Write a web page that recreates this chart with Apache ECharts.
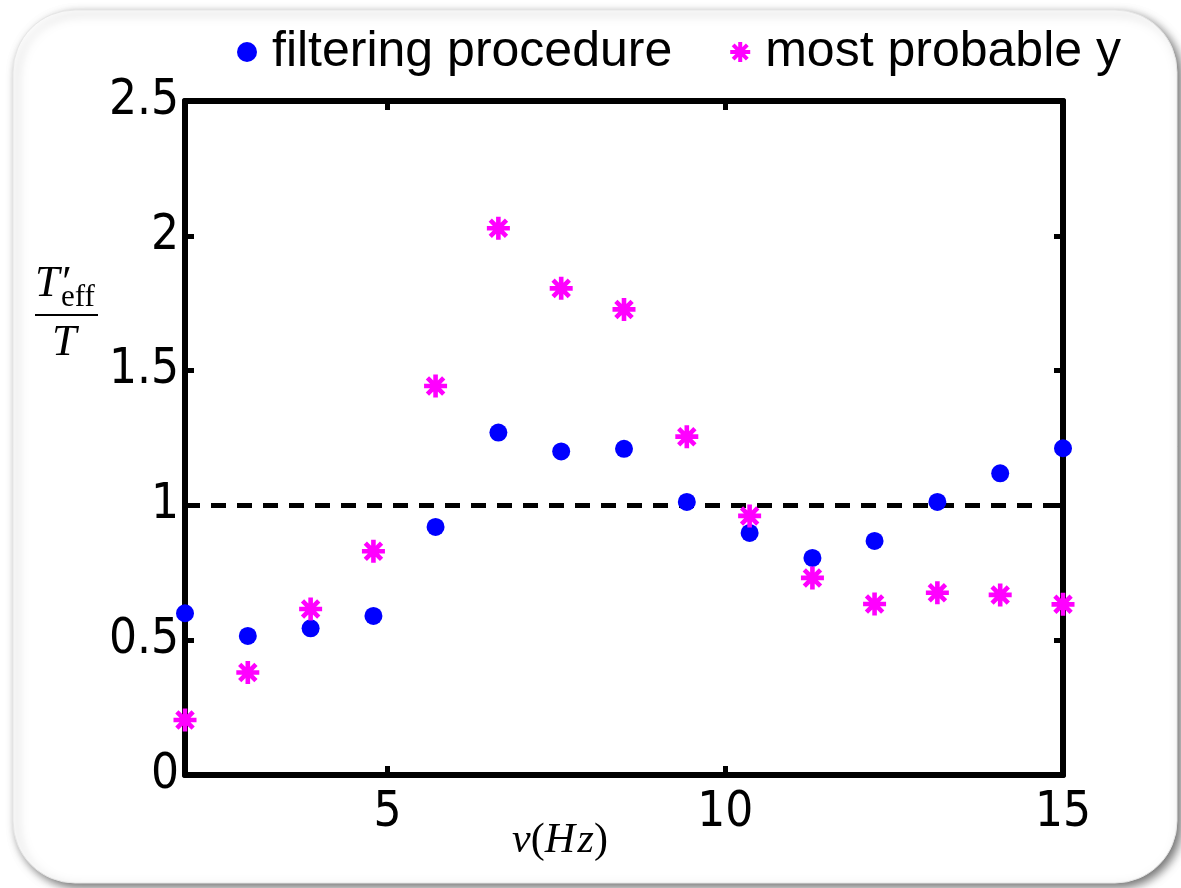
<!DOCTYPE html>
<html>
<head>
<meta charset="utf-8">
<script src="https://cdn.jsdelivr.net/npm/echarts@6/dist/echarts.min.js"></script>
<style>
html,body{margin:0;padding:0;background:#ffffff;}
#chart{width:1181px;height:888px;}
</style>
</head>
<body>
<div id="chart"></div>
<script>
// ---- data ----
const freqs = [2, 2.93, 3.86, 4.79, 5.71, 6.64, 7.57, 8.5, 9.43, 10.36, 11.29, 12.21, 13.14, 14.07, 15];
const filteringValues = [0.60, 0.516, 0.544, 0.59, 0.92, 1.27, 1.20, 1.21, 1.013, 0.898, 0.805, 0.868, 1.013, 1.119, 1.212];
const mostProbableValues = [0.204, 0.38, 0.616, 0.83, 1.443, 2.028, 1.805, 1.727, 1.255, 0.961, 0.731, 0.634, 0.676, 0.668, 0.633];
const refLineX = [2, 15];
const refLineY = [1, 1];
const xTickValues = [5, 10, 15];
const xTopTickValues = [5, 10];
const yTickValues = [0, 0.5, 1, 1.5, 2, 2.5];
const yInnerTickValues = [0.5, 1, 1.5, 2];
const seriesNames = ['filtering procedure', 'most probable y'];

// asterisk: horizontal, vertical and two diagonal bars (bar width 20 of 100)
const asteriskPath = 'path://M0 40L100 40L100 60L0 60Z M40 0L60 0L60 100L40 100Z ' +
  'M21.72 7.57L92.43 78.28L78.28 92.43L7.57 21.72Z ' +
  'M7.57 78.28L78.28 7.57L92.43 21.72L21.72 92.43Z';

const pair = (xs, ys) => xs.map((x, i) => [x, ys[i]]);

const tickFont = "'DejaVu Sans Condensed', 'DejaVu Sans', sans-serif";
const serif = "'Liberation Serif', 'DejaVu Serif', serif";

const chart = echarts.init(document.getElementById('chart'), null, {renderer: 'canvas'});

const axisLineStyle = {color: '#000', width: 6};
const tickStyle = {color: '#000', width: 5};

const option = {
  backgroundColor: '#ffffff',
  animation: false,
  grid: {left: 185, right: 118, top: 101, bottom: 113, containLabel: false},
  legend: {
    left: 232, top: 22,
    itemWidth: 20, itemHeight: 20, itemGap: 58,
    textStyle: {fontFamily: "'Liberation Sans', Arial, sans-serif", fontSize: 50, color: '#000', padding: [0, 0, 0, 10]},
    data: [
      {name: seriesNames[0], icon: 'circle'},
      {name: seriesNames[1], icon: asteriskPath}
    ]
  },
  graphic: [
    {type: 'rect', z: -10, silent: true,
     shape: {x: 13, y: 10, width: 1164, height: 873, r: 62},
     style: {fill: '#ffffff', stroke: '#e6e6e6', lineWidth: 1,
             shadowBlur: 10, shadowOffsetX: 4, shadowOffsetY: 4, shadowColor: 'rgba(0,0,0,0.55)'}},
    {type: 'text', z: 10, left: 35, top: 262,
     style: {text: 'T′', font: "italic 44px 'Liberation Serif', serif", fill: '#000'}},
    {type: 'text', z: 10, left: 61, top: 282,
     style: {text: 'eff', font: "31px 'Liberation Serif', serif", fill: '#000'}},
    {type: 'line', z: 10, shape: {x1: 35, y1: 315, x2: 98, y2: 315}, style: {stroke: '#000', lineWidth: 2}},
    {type: 'text', z: 10, left: 52, top: 321,
     style: {text: 'T', font: "italic 44px 'Liberation Serif', serif", fill: '#000'}}
  ],
  xAxis: [
    {
      type: 'value', position: 'bottom', min: 2, max: 15,
      name: '{i|ν}{n|(}{i|H}{s| }{i|z}{n|)}', nameLocation: 'middle', nameGap: 45,
      nameMoveOverlap: false,
      nameTextStyle: {padding: [0, 128, 0, 0], verticalAlign: 'top',
        rich: {i: {fontFamily: serif, fontStyle: 'italic', fontSize: 42, color: '#000'},
               n: {fontFamily: serif, fontSize: 42, color: '#000'},
               s: {fontFamily: serif, fontSize: 10, color: '#000'}}},
      axisLine: {show: true, onZero: false, lineStyle: axisLineStyle},
      axisTick: {show: true, inside: true, length: 9, lineStyle: tickStyle, customValues: xTickValues},
      axisLabel: {show: true, margin: 14, fontFamily: tickFont, fontSize: 49, color: '#000', customValues: xTickValues},
      splitLine: {show: false}
    },
    {
      type: 'value', position: 'top', min: 2, max: 15,
      axisLine: {show: true, onZero: false, lineStyle: axisLineStyle},
      axisTick: {show: true, inside: true, length: 9, lineStyle: tickStyle, customValues: xTopTickValues},
      axisLabel: {show: false},
      splitLine: {show: false}
    }
  ],
  yAxis: [
    {
      type: 'value', position: 'left', min: 0, max: 2.5, interval: 0.5,
      axisLine: {show: true, onZero: false, lineStyle: axisLineStyle},
      axisTick: {show: true, inside: true, length: 9, lineStyle: tickStyle, customValues: yInnerTickValues},
      axisLabel: {show: true, margin: 6, fontFamily: tickFont, fontSize: 49, color: '#000', customValues: yTickValues},
      splitLine: {show: false}
    },
    {
      type: 'value', position: 'right', min: 0, max: 2.5, interval: 0.5,
      axisLine: {show: true, onZero: false, lineStyle: axisLineStyle},
      axisTick: {show: true, inside: true, length: 9, lineStyle: tickStyle, customValues: yInnerTickValues},
      axisLabel: {show: false},
      splitLine: {show: false}
    }
  ],
  series: [
    {
      name: 'ref', type: 'line', z: 1, silent: true,
      data: pair(refLineX, refLineY), symbol: 'none',
      lineStyle: {color: '#000', width: 5, type: [15, 11]}
    },
    {
      name: seriesNames[0], type: 'scatter', z: 5, clip: false,
      symbol: 'circle', symbolSize: 18,
      itemStyle: {color: '#0000ff', opacity: 1},
      data: pair(freqs, filteringValues)
    },
    {
      name: seriesNames[1], type: 'scatter', z: 6, clip: false,
      symbol: asteriskPath, symbolSize: 23,
      itemStyle: {color: '#ff00ff', opacity: 1},
      data: pair(freqs, mostProbableValues)
    }
  ]
};
chart.setOption(option);
</script>
</body>
</html>
